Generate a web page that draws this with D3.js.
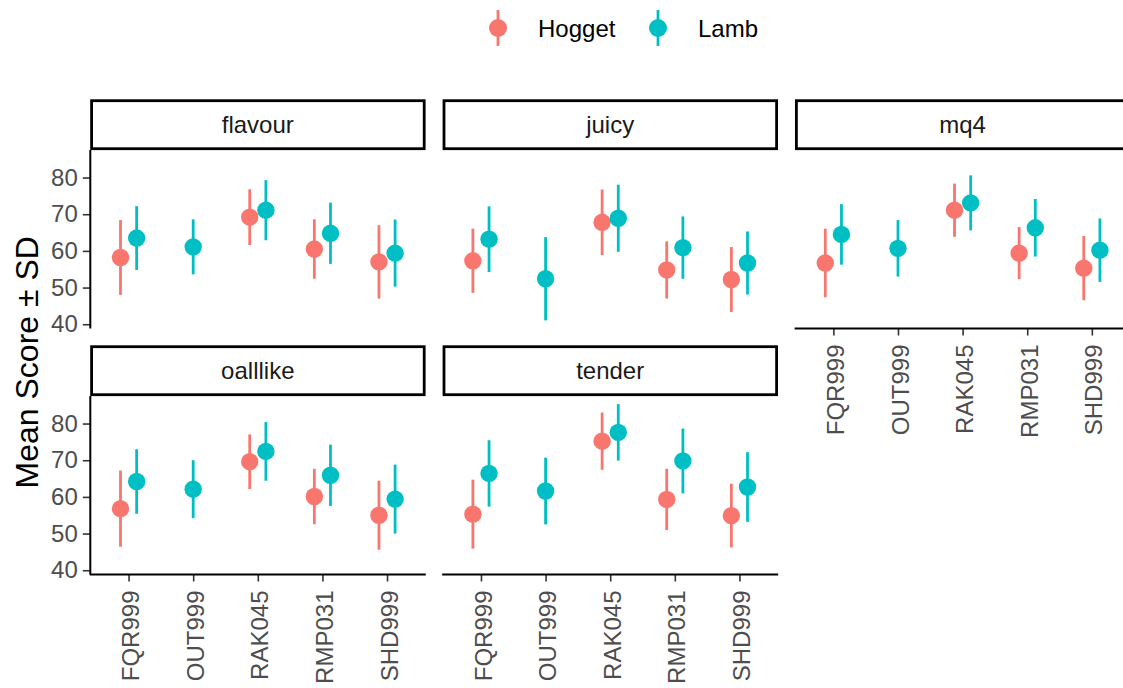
<!DOCTYPE html>
<html>
<head>
<meta charset="utf-8">
<script src="https://cdn.jsdelivr.net/npm/d3@7"></script>
<style>
  html, body { margin: 0; padding: 0; background: #ffffff; overflow: hidden; }
  svg { display: block; overflow: hidden; }
  text { font-family: "Liberation Sans", Arial, sans-serif; }
</style>
</head>
<body>
<svg id="chart" width="1123" height="688"></svg>
<script>
// ---------------- data ----------------
const categories = ["FQR999", "OUT999", "RAK045", "RMP031", "SHD999"];
const facets = ["flavour", "juicy", "mq4", "oalllike", "tender"];
const groups = ["Hogget", "Lamb"];
const yTicks = [40, 50, 60, 70, 80];

// rows follow `facets`, columns follow `categories` (null = no data)
const hoggetMean = [
  [58.2, null, 69.2, 60.5, 57.0],
  [57.3, null, 67.8, 54.8, 52.2],
  [56.7, null, 71.1, 59.4, 55.3],
  [56.8, null, 69.6, 60.1, 55.0],
  [55.3, null, 75.2, 59.3, 54.9]
];
const hoggetSD = [
  [10.2, null, 7.6, 8.1, 10.0],
  [8.75, null, 8.95, 7.8, 8.85],
  [9.35, null, 7.25, 7.1, 8.75],
  [10.4, null, 7.45, 7.55, 9.4],
  [9.4, null, 7.8, 8.35, 8.7]
];
const lambMean = [
  [63.5, 61.1, 71.1, 64.8, 59.4],
  [63.2, 52.4, 68.9, 60.9, 56.7],
  [64.5, 60.7, 73.1, 66.3, 60.2],
  [64.2, 62.1, 72.4, 65.9, 59.4],
  [66.4, 61.6, 77.6, 69.8, 62.7]
];
const lambSD = [
  [8.7, 7.5, 8.2, 8.35, 9.15],
  [8.95, 11.35, 9.15, 8.5, 8.6],
  [8.25, 7.7, 7.5, 7.85, 8.65],
  [8.8, 7.9, 8.0, 8.35, 9.4],
  [9.05, 9.1, 7.7, 8.85, 9.5]
];

// ---------------- styling / layout ----------------
const colors = { Hogget: "#F8766D", Lamb: "#00BFC4" };
const FONT = 24;
const panelW = 336, panelH = 178.5;
const colX = [89.8, 89.8 + 352.4, 89.8 + 2 * 352.4];
const rowY = [150, 396];
const stripH = 48;
const tickLen = 7;

const svg = d3.select("#chart");

// build records
const records = [];
facets.forEach((f, fi) => {
  categories.forEach((c, ci) => {
    if (hoggetMean[fi][ci] != null) records.push({ facet: f, cat: c, group: "Hogget", mean: hoggetMean[fi][ci], sd: hoggetSD[fi][ci] });
    if (lambMean[fi][ci] != null) records.push({ facet: f, cat: c, group: "Lamb", mean: lambMean[fi][ci], sd: lambSD[fi][ci] });
  });
});

// shared y domain with 5% expansion like ggplot
const lo = d3.min(records, d => d.mean - d.sd);
const hi = d3.max(records, d => d.mean + d.sd);
const pad = (hi - lo) * 0.05;
const yDomain = [lo - pad, hi + pad];

// facet layout (facet_wrap, 3 columns)
const layout = facets.map((f, i) => ({ facet: f, row: Math.floor(i / 3), col: i % 3 }));

layout.forEach(p => {
  const x0 = colX[p.col], y0 = rowY[p.row];
  const g = svg.append("g").attr("transform", `translate(${x0},${y0})`);

  const x = d3.scalePoint().domain(categories).range([0, panelW]).padding(0.6);
  const y = d3.scaleLinear().domain(yDomain).range([panelH, 0]);
  const dodgeW = x.step() * 0.5;

  // strip
  svg.append("rect")
    .attr("x", x0 + 1.8).attr("y", y0 - stripH - 1.3)
    .attr("width", panelW - 3.4).attr("height", stripH)
    .attr("fill", "#ffffff").attr("stroke", "#000000").attr("stroke-width", 2.8);
  svg.append("text")
    .attr("x", x0 + panelW / 2).attr("y", y0 - stripH / 2 - 1.3)
    .attr("dy", "0.35em")
    .attr("text-anchor", "middle")
    .attr("font-size", FONT).attr("fill", "#1A1A1A")
    .text(p.facet);

  // y axis only in first column
  if (p.col === 0) {
    const ya = g.append("g").call(d3.axisLeft(y).tickValues(yTicks).tickSize(tickLen).tickPadding(5));
    ya.select(".domain").remove();
    ya.selectAll(".tick line").attr("stroke", "#333333").attr("stroke-width", 1.6);
    ya.selectAll(".tick text").attr("font-size", FONT).attr("fill", "#4D4D4D")
      .attr("font-family", "'Liberation Sans', Arial, sans-serif");
    g.append("line").attr("x1", 0.5).attr("x2", 0.5).attr("y1", 0).attr("y2", panelH)
      .attr("stroke", "#000000").attr("stroke-width", 2);
  }

  // x axis if bottom panel in its column
  const hasBelow = layout.some(q => q.col === p.col && q.row === p.row + 1);
  if (!hasBelow) {
    const xa = g.append("g").attr("transform", `translate(0,${panelH})`)
      .call(d3.axisBottom(x).tickSize(tickLen).tickPadding(0));
    xa.select(".domain").remove();
    xa.selectAll(".tick line").attr("stroke", "#333333").attr("stroke-width", 1.6);
    xa.selectAll(".tick text")
      .attr("font-size", FONT).attr("fill", "#4D4D4D")
      .attr("font-family", "'Liberation Sans', Arial, sans-serif")
      .attr("text-anchor", "end")
      .attr("transform", `translate(0,${tickLen + 9}) rotate(-90)`)
      .attr("x", 0).attr("y", 0).attr("dy", "0.42em");
    g.append("line").attr("x1", 0).attr("x2", panelW).attr("y1", panelH).attr("y2", panelH)
      .attr("stroke", "#000000").attr("stroke-width", 2);
  }

  // data
  const recs = records.filter(d => d.facet === p.facet);
  const byCat = d3.group(recs, d => d.cat);
  const pts = recs.map(d => {
    const members = byCat.get(d.cat);
    const n = members.length;
    const idx = members.indexOf(d);
    const off = n === 1 ? 0 : (-dodgeW / 2 + dodgeW / n * (idx + 0.5));
    return Object.assign({ px: x(d.cat) + off }, d);
  });

  g.selectAll("line.err").data(pts).enter().append("line")
    .attr("class", "err")
    .attr("x1", d => d.px).attr("x2", d => d.px)
    .attr("y1", d => y(d.mean - d.sd)).attr("y2", d => y(d.mean + d.sd))
    .attr("stroke", d => colors[d.group]).attr("stroke-width", 2.8);
  g.selectAll("circle.pt").data(pts).enter().append("circle")
    .attr("class", "pt")
    .attr("cx", d => d.px).attr("cy", d => y(d.mean))
    .attr("r", 8.7)
    .attr("fill", d => colors[d.group]);
});

// y axis title
const midY = (rowY[0] + rowY[1] + panelH) / 2;
svg.append("text")
  .attr("transform", `translate(38,${midY}) rotate(-90)`)
  .attr("text-anchor", "middle")
  .attr("font-size", 32).attr("fill", "#000000")
  .text("Mean Score \u00B1 SD");

// legend
const legendX = [498, 658];
groups.forEach((gname, i) => {
  const lg = svg.append("g").attr("transform", `translate(${legendX[i]},28)`);
  lg.append("line").attr("x1", 0).attr("x2", 0).attr("y1", -18).attr("y2", 18)
    .attr("stroke", colors[gname]).attr("stroke-width", 2.8);
  lg.append("circle").attr("r", 9).attr("fill", colors[gname]);
  svg.append("text").attr("x", legendX[i] + 40).attr("y", 37)
    .attr("font-size", FONT).attr("fill", "#000000").text(gname);
});
</script>
</body>
</html>
